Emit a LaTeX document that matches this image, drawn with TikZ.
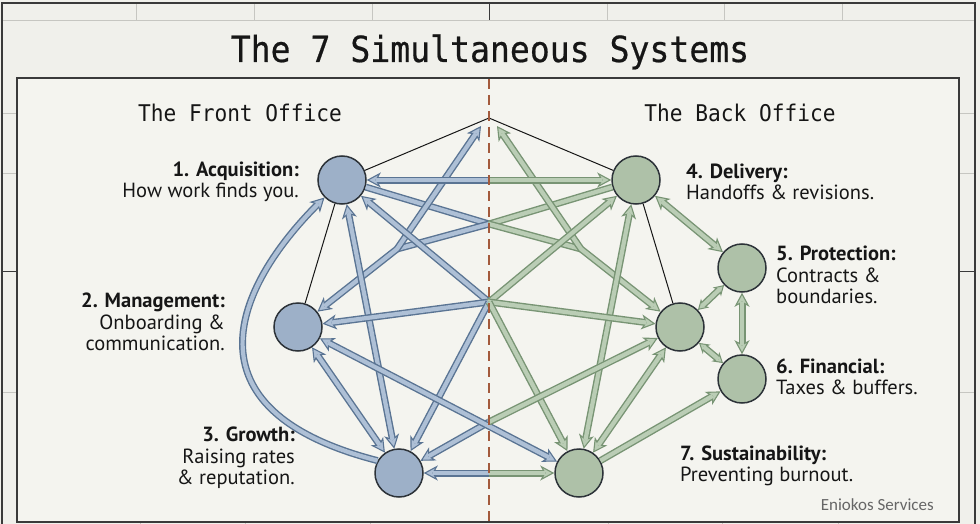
\documentclass[tikz,border=0pt]{standalone}
\usepackage{fontspec}
\setmainfont{PT Sans}
\newfontfamily\monofam[FakeStretch=0.92]{DejaVu Sans Mono}
\newfontfamily\titlefam[FakeStretch=0.92,FakeBold=0.5]{DejaVu Sans Mono}
\newfontfamily\wmfont{Carlito}
\usetikzlibrary{arrows.meta}
\definecolor{bgin}{HTML}{F4F4EF}
\definecolor{bgout}{HTML}{F0F0EB}
\definecolor{framec}{HTML}{3A3A3A}
\definecolor{gridc}{HTML}{C6C6C1}
\definecolor{dashc}{HTML}{A35A3C}
\definecolor{bnode}{HTML}{9DB0C8}
\definecolor{gnode}{HTML}{AEC1A8}
\definecolor{bdark}{HTML}{5A7493}
\definecolor{blight}{HTML}{AEC0D6}
\definecolor{gdark}{HTML}{789474}
\definecolor{glight}{HTML}{BACDB5}
\definecolor{ink}{HTML}{161616}
\definecolor{outl}{HTML}{2C3238}
\tikzset{
  tipB/.tip={Stealth[length=14pt,width=15pt,inset=4pt,line width=1.1pt,color=bdark,fill=blight]},
  tipG/.tip={Stealth[length=14pt,width=15pt,inset=4pt,line width=1.1pt,color=gdark,fill=glight]},
  tipGs/.tip={Stealth[length=10pt,width=12pt,inset=3pt,line width=1pt,color=gdark,fill=glight]},
  sysnode/.style={circle, minimum size=48pt, inner sep=0pt, line width=1.5pt, draw=outl},
  bnd/.style={sysnode, fill=bnode},
  gnd/.style={sysnode, fill=gnode},
  bbase/.style={draw=bdark, line width=7pt, line join=round},
  gbase/.style={draw=gdark, line width=7pt, line join=round},
  bto/.style={bbase, -{tipB}, postaction={draw=blight, line width=4.2pt, arrows=-, shorten >=9pt}},
  bboth/.style={bbase, {tipB}-{tipB}, postaction={draw=blight, line width=4.2pt, arrows=-, shorten >=9pt, shorten <=9pt}},
  bplain/.style={bbase, postaction={draw=blight, line width=4.2pt}},
  gto/.style={gbase, -{tipG}, postaction={draw=glight, line width=4.2pt, arrows=-, shorten >=9pt}},
  gboth/.style={gbase, {tipG}-{tipG}, postaction={draw=glight, line width=4.2pt, arrows=-, shorten >=9pt, shorten <=9pt}},
  gboths/.style={gbase, {tipGs}-{tipGs}, postaction={draw=glight, line width=4.2pt, arrows=-, shorten >=6pt, shorten <=6pt}},
  gplain/.style={gbase, postaction={draw=glight, line width=4.2pt}},
  blk/.style={draw=ink, line width=1pt},
  lbl/.style={font=\fontsize{20.5}{21.5}\selectfont, text=ink, inner sep=0pt},
  head/.style={font=\monofam\fontsize{23}{23}\selectfont, text=ink, inner sep=0pt, anchor=base},
}
\begin{document}
\begin{tikzpicture}[x=1pt,y=-1pt]
\useasboundingbox (0,0) rectangle (980,524);
% background and frame
\fill[bgout] (0,0) rectangle (980,524);
\fill[bgin] (17,78) rectangle (959,522);
\draw[gridc, line width=0.8pt] (2,20) -- (975,20);
\foreach \x in {136,254,372,607,724,842} \draw[gridc, line width=0.8pt] (\x,3) -- (\x,20);
\foreach \x in {140,245,370,608,722,838} \draw[gridc, line width=0.8pt] (\x,522) -- (\x,524);
\foreach \y in {113,173,392} {
  \draw[gridc, line width=0.8pt] (2,\y) -- (17,\y);
  \draw[gridc, line width=0.8pt] (959,\y) -- (975,\y);
}
\draw[framec, line width=1pt] (2,271) -- (17,271);
\draw[framec, line width=1pt] (959,271) -- (975,271);
\draw[framec, line width=1pt] (489,3) -- (489,20);
\draw[framec, line width=1.2pt] (2,524) -- (2,3) -- (975,3) -- (975,524);
\draw[framec, line width=1.5pt] (17,78) rectangle (959,522);

% titles
\node[font=\titlefam\fontsize{36}{36}\selectfont, text=ink, inner sep=0pt, anchor=base] (title) at (490,62) {The 7 Simultaneous Systems};
\node[head] (front) at (240,122) {The Front Office};
\node[head] (back) at (740,122) {The Back Office};

% hubs
\coordinate (A) at (489,118);
\coordinate (AL) at (481,126);
\coordinate (AR) at (497,126);
\coordinate (H1) at (489,180);
\coordinate (H2) at (489,224);
\coordinate (H3) at (489,302);
\coordinate (H4) at (489,422);
\coordinate (H5) at (489,473);
\coordinate (ML) at (397,249);
\coordinate (MR) at (581,249);

% system nodes
\node[bnd] (n1) at (342,180) {};
\node[bnd] (n2) at (298,327) {};
\node[bnd] (n3) at (399,473) {};
\node[gnd] (n4) at (636,180) {};
\node[gnd] (nR) at (680,327) {};
\node[gnd] (n5) at (742,268) {};
\node[gnd] (n6) at (742,379) {};
\node[gnd] (n7) at (579,473) {};

% thin black lines
\draw[blk] (A) -- (n1);
\draw[blk] (A) -- (n4);
\draw[blk] (n1) -- (n2);
\draw[blk] (n4) -- (nR);

% blue connectors
\draw[bto] (n3.150) .. controls (180,410) and (235,287) .. (n1.225);
\draw[bplain] (n1) -- (H2);
\draw[bplain] (H2) -- (ML);
\draw[bboth] (n2) -- (ML) -- (AL);
\draw[bboth] (n1) -- (n3);
\draw[bto] (H3) -- (n1);
\draw[bto] (H3) -- (n2);
\draw[bto] (H3) -- (n3);
\draw[bto] (H4) -- (n3);
\draw[bboth] (n2) -- (n3);
\draw[bboth] (n2) -- (n7);
\draw[bto] (H1) -- (n1);
\draw[bto] (H5) -- (n3);

% green connectors
\draw[gplain] (n4) -- (H2);
\draw[gplain] (H2) -- (MR);
\draw[gboth] (nR) -- (MR) -- (AR);
\draw[gboth] (n4) -- (n7);
\draw[gto] (H3) -- (n4);
\draw[gto] (H3) -- (nR);
\draw[gto] (H3) -- (n7);
\draw[gto] (H4) -- (nR);
\draw[gboth] (nR) -- (n7);
\draw[gto] (n7) -- (n6);
\draw[gboth] (n4) -- (n5);
\draw[gboths] (nR) -- (n5);
\draw[gboths] (nR) -- (n6);
\draw[gboth] (n5) -- (n6);
\draw[gto] (H1) -- (n4);
\draw[gto] (H5) -- (n7);

% center dashed line
\draw[dashc, line width=1.6pt, dash pattern=on 10pt off 6pt] (489,79) -- (489,522);

% labels
\node[lbl, anchor=east, align=right] (t1) at (299,182) {\textbf{1. Acquisition:}\\How work finds you.};
\node[lbl, anchor=east, align=right] (t2) at (225,322) {\textbf{2. Management:}\\Onboarding \&\\communication.};
\node[lbl, anchor=east, align=right] (t3) at (295,458) {\textbf{3. Growth:}\\Raising rates\\\& reputation.};
\node[lbl, anchor=west, align=left] (t4) at (686,182) {\textbf{4. Delivery:}\\Handoffs \& revisions.};
\node[lbl, anchor=west, align=left] (t5) at (776,275) {\textbf{5. Protection:}\\Contracts \&\\boundaries.};
\node[lbl, anchor=west, align=left] (t6) at (776,377) {\textbf{6. Financial:}\\Taxes \& buffers.};
\node[lbl, anchor=west, align=left] (t7) at (680,466) {\textbf{7. Sustainability:}\\Preventing burnout.};
\node[font=\wmfont\fontsize{17}{17}\selectfont, text=black!60, inner sep=0pt, anchor=east] (wm) at (934,505) {Eniokos Services};
\end{tikzpicture}
\end{document}
